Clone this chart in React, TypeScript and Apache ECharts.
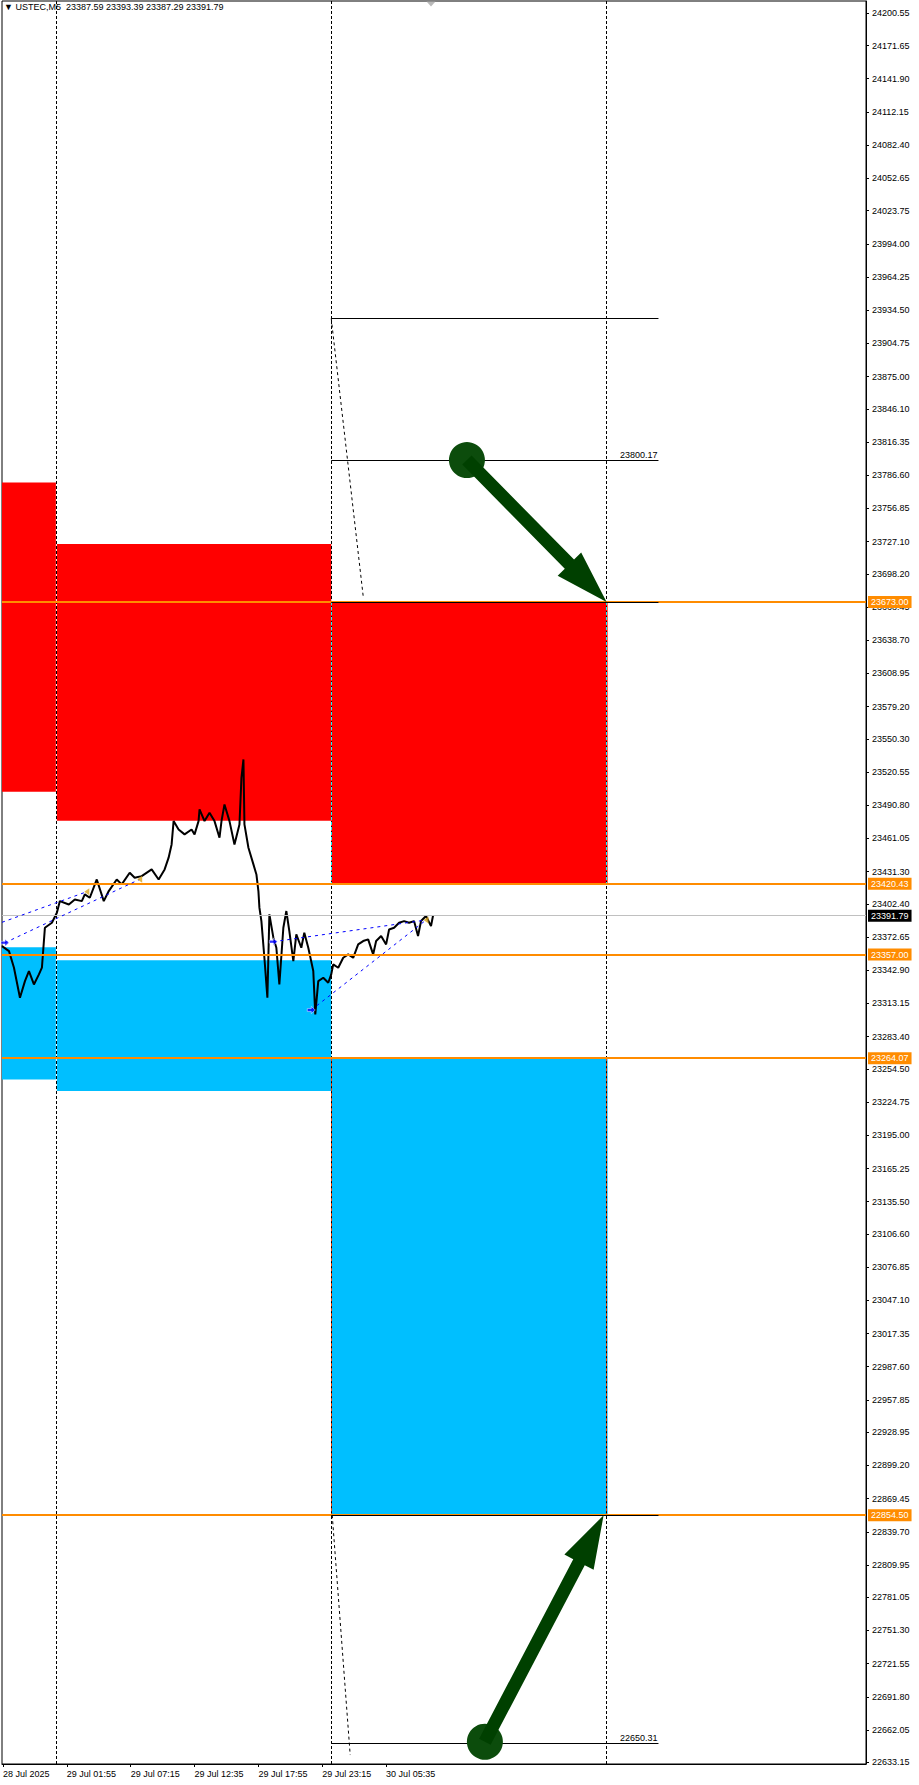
import React, { useEffect, useRef } from "react";
import * as echarts from "echarts";

const FONT = "'Liberation Sans', Arial, sans-serif";

// price path (bar index, price)
const priceX = [0, 7, 12, 18, 23, 27, 32, 37, 40, 42, 43, 50, 55, 58, 67, 73, 80, 83, 88, 95, 102, 107, 115, 120, 128, 133, 140, 150, 157, 163, 167, 170, 172, 177, 183, 190, 193, 197, 198, 203, 208, 213, 218, 220, 223, 228, 233, 238, 240, 242, 243, 247, 252, 255, 257, 258, 260, 263, 266, 268, 272, 275, 278, 282, 285, 288, 292, 295, 300, 303, 307, 312, 314, 317, 322, 327, 330, 332, 337, 342, 347, 352, 357, 362, 367, 372, 375, 380, 385, 388, 393, 398, 403, 408, 413, 417, 420, 425, 430, 432];
const priceY = [23364.6, 23360.1, 23345.2, 23318.3, 23333.2, 23342.2, 23330.2, 23339.2, 23345.2, 23369.1, 23381.0, 23385.5, 23394.5, 23404.9, 23401.9, 23406.4, 23404.9, 23410.9, 23407.9, 23424.3, 23404.9, 23413.9, 23424.3, 23419.9, 23430.3, 23425.8, 23427.3, 23433.3, 23424.3, 23433.3, 23443.8, 23455.7, 23476.6, 23469.1, 23464.7, 23469.1, 23464.7, 23476.6, 23487.1, 23476.6, 23484.1, 23476.6, 23461.7, 23476.6, 23491.5, 23476.6, 23455.7, 23473.6, 23515.4, 23531.9, 23473.6, 23452.7, 23437.8, 23428.8, 23413.9, 23399.0, 23387.0, 23354.1, 23318.3, 23393.0, 23372.1, 23363.1, 23330.2, 23381.0, 23396.0, 23378.0, 23351.2, 23375.0, 23363.1, 23376.5, 23363.1, 23342.2, 23303.4, 23333.2, 23336.2, 23331.7, 23339.2, 23348.2, 23345.2, 23354.1, 23357.1, 23354.1, 23366.1, 23369.1, 23370.6, 23357.1, 23369.1, 23373.6, 23366.1, 23379.5, 23381.0, 23385.5, 23387.0, 23385.5, 23387.0, 23373.6, 23387.0, 23391.5, 23382.5, 23391.79];

const yTickValues = [24200.55, 24171.65, 24141.90, 24112.15, 24082.40, 24052.65, 24023.75, 23994.00, 23964.25, 23934.50, 23904.75, 23875.00, 23846.10, 23816.35, 23786.60, 23756.85, 23727.10, 23698.20, 23668.45, 23638.70, 23608.95, 23579.20, 23550.30, 23520.55, 23490.80, 23461.05, 23431.30, 23402.40, 23372.65, 23342.90, 23313.15, 23283.40, 23254.50, 23224.75, 23195.00, 23165.25, 23135.50, 23106.60, 23076.85, 23047.10, 23017.35, 22987.60, 22957.85, 22928.95, 22899.20, 22869.45, 22839.70, 22809.95, 22781.05, 22751.30, 22721.55, 22691.80, 22662.05, 22633.15];
const xTickValues = [1, 65, 129, 193, 257, 321, 385];
const xTickLabels = ["28 Jul 2025", "29 Jul 01:55", "29 Jul 07:15", "29 Jul 12:35", "29 Jul 17:55", "29 Jul 23:15", "30 Jul 05:35"];

const headerText = "\u25BC USTEC,M5  23387.59 23393.39 23387.29 23391.79";

const xMin = 0;
const xMax = 866;
const yMin = 22631.57;
const yMax = 24211.57;

const separatorsX = [54, 330, 606];
const orangeLevels = [23673.0, 23420.43, 23357.0, 23264.07, 22854.5];
const currentPrice = 23391.79;

// [x0, x1, top, bottom]
const redZones = [
  [0, 53, 23780.0, 23503.0],
  [55, 329, 23725.0, 23477.0],
  [330, 606, 23673.0, 23420.43],
];
const blueZones = [
  [0, 53, 23363.5, 23245.0],
  [55, 329, 23352.0, 23234.7],
  [330, 606, 23264.07, 22854.5],
];

// [x0, x1, price, showLabel]
const targetLines: [number, number, number, boolean][] = [
  [330, 658, 23927.0, false],
  [330, 658, 23800.17, true],
  [330, 658, 23673.0, false],
  [330, 658, 22854.5, false],
  [330, 658, 22650.31, true],
];
// [x0, p0, x1, p1]
const diagLines = [
  [330, 23927.0, 362, 23678.3],
  [331, 22854.5, 349, 22639.6],
];
const trendLines = [
  [0, 23385.9, 85, 23413.3],
  [3, 23367.6, 138, 23424.4],
  [272, 23368.5, 425, 23387.9],
  [310, 23307.3, 425, 23387.9],
];
const startMarkers = [[3, 23367.6], [272, 23368.5], [310, 23307.3]];
const endMarkers = [[85, 23413.3], [138, 23424.4], [425, 23387.9]];
// [circleX, circleP, tipX, tipP]
const arrows = [
  [466, 23800.17, 606, 23673.0],
  [484, 22651.5, 603, 22854.5],
];

const fmt = (v: number) => v.toFixed(2);

function buildOption() {
  const seg = (a: number[], color: string, dash: any, width = 1) => [
    { coord: [a[0], a[1]], lineStyle: { color, type: dash, width } },
    { coord: [a[2], a[3]] },
  ];

  const sepColored: any[] = [];
  [330, 606].forEach((x) => {
    redZones.filter((z) => z[0] <= x && z[1] >= x).forEach((z) => {
      sepColored.push(seg([x, z[2], x, z[3]], "#00FFFF", [3, 2]));
    });
    blueZones.filter((z) => z[0] <= x && z[1] >= x).forEach((z) => {
      sepColored.push(seg([x, z[2], x, z[3]], "#FF4000", [3, 2]));
    });
  });

  const zoneData: any[] = [];
  redZones.forEach((z) =>
    zoneData.push([{ coord: [z[0], z[2]], itemStyle: { color: "#FF0000", opacity: 1 } }, { coord: [z[1] + 1, z[3]] }])
  );
  blueZones.forEach((z) =>
    zoneData.push([{ coord: [z[0], z[2]], itemStyle: { color: "#00BFFF", opacity: 1 } }, { coord: [z[1] + 1, z[3]] }])
  );

  const levelData: any[] = [];
  orangeLevels.forEach((p) =>
    levelData.push({
      yAxis: p,
      lineStyle: { color: "#FF8C00", width: 2, type: "solid" },
      label: {
        show: true,
        position: "end",
        formatter: fmt(p),
        backgroundColor: "#FF8C00",
        color: "#FFFFFF",
        padding: [2, 3, 1, 3],
        distance: 2,
        fontSize: 9,
        fontFamily: FONT,
      },
    })
  );
  targetLines.forEach((t) =>
    levelData.push([
      {
        coord: [t[0], t[2]],
        lineStyle: { color: "#000000", width: 1, type: "solid" },
        label: t[3]
          ? { show: true, position: "insideEndTop", formatter: fmt(t[2]), color: "#000", fontSize: 9, fontFamily: FONT, distance: 1 }
          : { show: false },
      },
      { coord: [t[1], t[2]] },
    ])
  );
  diagLines.forEach((d) => levelData.push(seg(d, "#000000", [3, 3])));
  trendLines.forEach((d) => levelData.push(seg(d, "#0000FF", [3, 4])));

  return {
    animation: false,
    backgroundColor: "#FFFFFF",
    textStyle: { fontFamily: FONT },
    title: {
      text: headerText,
      left: 4,
      top: 2,
      padding: 0,
      textStyle: { fontSize: 9, fontWeight: "normal", color: "#000", fontFamily: FONT },
    },
    grid: {
      left: 0,
      right: 53,
      top: 1,
      bottom: 21,
      show: true,
      borderColor: "#000",
      borderWidth: 1,
      backgroundColor: "#FFFFFF",
    },
    xAxis: {
      type: "value",
      min: xMin,
      max: xMax,
      splitLine: { show: false },
      axisLine: { show: true, onZero: false, lineStyle: { color: "#000", width: 1 } },
      axisTick: { show: true, customValues: xTickValues, length: 3, lineStyle: { color: "#000" } },
      axisLabel: {
        customValues: xTickValues,
        formatter: (v: number) => xTickLabels[xTickValues.indexOf(v)] ?? "",
        align: "left",
        margin: 5,
        fontSize: 9,
        color: "#000",
        fontFamily: FONT,
        hideOverlap: false,
      },
    },
    yAxis: {
      type: "value",
      position: "right",
      min: yMin,
      max: yMax,
      scale: true,
      splitLine: { show: false },
      axisLine: { show: true, onZero: false, lineStyle: { color: "#000", width: 1 } },
      axisTick: { show: true, customValues: yTickValues, length: 3, lineStyle: { color: "#000" } },
      axisLabel: {
        customValues: yTickValues,
        formatter: (v: number) => fmt(v),
        margin: 6,
        fontSize: 9,
        color: "#000",
        fontFamily: FONT,
        hideOverlap: false,
      },
    },
    series: [
      {
        name: "separators",
        type: "line",
        data: [],
        z: 1,
        silent: true,
        markLine: {
          silent: true,
          symbol: ["none", "none"],
          animation: false,
          data: [
            ...separatorsX.map((x) => ({ xAxis: x, lineStyle: { color: "#000", type: [3, 2], width: 1 }, label: { show: false } })),
            {
              yAxis: currentPrice,
              lineStyle: { color: "#C0C0C0", type: "solid", width: 1 },
              label: {
                show: true,
                position: "end",
                formatter: fmt(currentPrice),
                backgroundColor: "#000000",
                color: "#FFFFFF",
                padding: [2, 3, 1, 3],
                distance: 2,
                fontSize: 9,
                fontFamily: FONT,
              },
            },
          ],
        },
      },
      {
        name: "zones",
        type: "line",
        data: [],
        z: 2,
        silent: true,
        markArea: { silent: true, animation: false, data: zoneData },
      },
      {
        name: "sepColored",
        type: "line",
        data: [],
        z: 3,
        silent: true,
        markLine: { silent: true, symbol: ["none", "none"], animation: false, label: { show: false }, data: sepColored },
      },
      {
        name: "USTEC",
        type: "line",
        z: 4,
        data: priceX.map((x, i) => [x, priceY[i]]),
        showSymbol: false,
        lineStyle: { color: "#000000", width: 2 },
        silent: true,
      },
      {
        name: "levels",
        type: "line",
        data: [],
        z: 5,
        silent: true,
        markLine: { silent: true, symbol: ["none", "none"], animation: false, label: { show: false }, data: levelData },
      },
      {
        name: "start",
        type: "scatter",
        z: 6,
        data: startMarkers,
        symbol: "path://M0,3L5,3L5,0L10,5L5,10L5,7L0,7Z",
        symbolSize: [8, 7],
        itemStyle: { color: "#0000FF", borderColor: "#FFFFFF", borderWidth: 0.6 },
        silent: true,
      },
      {
        name: "end",
        type: "scatter",
        z: 6,
        data: endMarkers,
        symbol: "triangle",
        symbolRotate: 90,
        symbolSize: [7, 5],
        itemStyle: { color: "#DAA520" },
        silent: true,
      },
      {
        name: "shift",
        type: "scatter",
        z: 6,
        clip: false,
        data: [[priceX[priceX.length - 1] - 2, yMax]],
        symbol: "triangle",
        symbolRotate: 180,
        symbolSize: [9, 5],
        symbolOffset: [0, 3],
        itemStyle: { color: "#A8A8A8" },
        silent: true,
      },
      {
        name: "arrows",
        type: "custom",
        z: 7,
        silent: true,
        data: arrows,
        renderItem: (_params: any, api: any) => {
          const a = api.coord([api.value(0), api.value(1)]);
          const b = api.coord([api.value(2), api.value(3)]);
          const dx = b[0] - a[0];
          const dy = b[1] - a[1];
          const len = Math.hypot(dx, dy);
          const ux = dx / len;
          const uy = dy / len;
          const nx = -uy;
          const ny = ux;
          const headLen = 53;
          const headW = 16.5;
          const shaftW = 6.5;
          const bx = b[0] - ux * headLen;
          const by = b[1] - uy * headLen;
          const pts = [
            [a[0] + nx * shaftW, a[1] + ny * shaftW],
            [bx + nx * shaftW, by + ny * shaftW],
            [bx + nx * headW, by + ny * headW],
            [b[0], b[1]],
            [bx - nx * headW, by - ny * headW],
            [bx - nx * shaftW, by - ny * shaftW],
            [a[0] - nx * shaftW, a[1] - ny * shaftW],
          ];
          return {
            type: "group",
            children: [
              { type: "circle", shape: { cx: a[0], cy: a[1], r: 18 }, style: { fill: "#0C4C0C" } },
              { type: "polygon", shape: { points: pts }, style: { fill: "#004000" } },
            ],
          };
        },
      },
    ],
  };
}

export default function App() {
  const ref = useRef<HTMLDivElement>(null);
  useEffect(() => {
    if (!ref.current) return;
    const chart = echarts.init(ref.current, null, { renderer: "svg" });
    chart.setOption(buildOption() as any);
    return () => chart.dispose();
  }, []);
  return (
    <div
      ref={ref}
      style={{ position: "absolute", left: 0, top: 0, width: 919, height: 1785, background: "#FFFFFF" }}
    />
  );
}
